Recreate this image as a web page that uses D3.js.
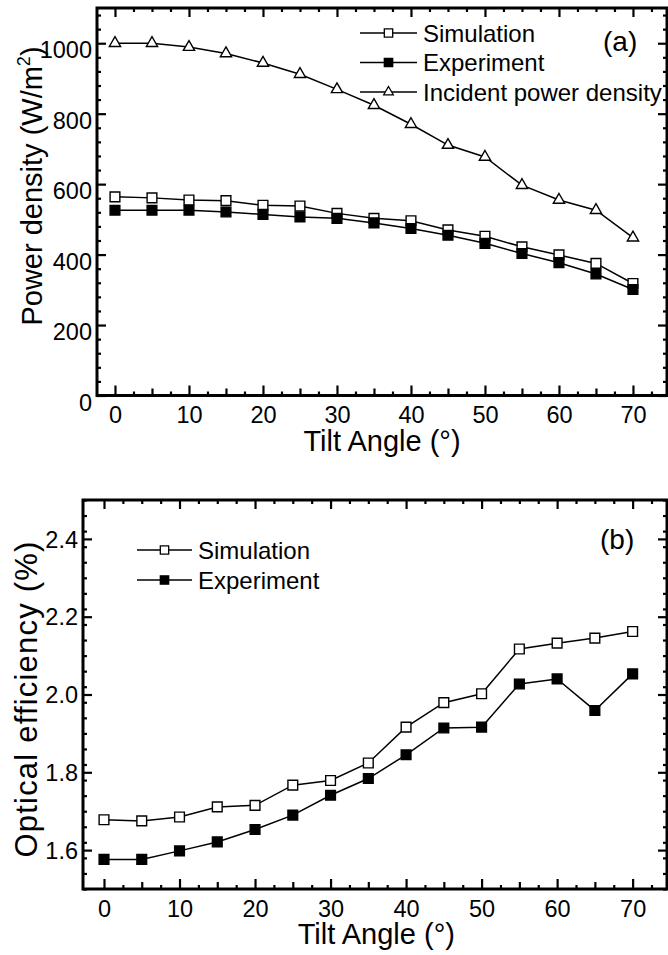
<!DOCTYPE html>
<html>
<head>
<meta charset="utf-8">
<script src="https://cdn.jsdelivr.net/npm/d3@7"></script>
<style>
  body { margin: 0; background: #fff; }
  svg text { font-family: "Liberation Sans", Arial, sans-serif; fill: #000; }
</style>
</head>
<body>
<div id="chart"></div>
<script>
// tilt angles (degrees)
const angles = [0, 5, 10, 15, 20, 25, 30, 35, 40, 45, 50, 55, 60, 65, 70];

// panel (a): power density, W/m^2
const simPower = [564, 561, 555, 553, 540, 538, 517, 503, 496, 470, 452, 422, 399, 375, 318];
const expPower = [526, 526, 526, 521, 514, 507, 503, 490, 474, 455, 432, 403, 377, 345, 301];
const incPower = [1000, 1000, 989, 971, 944, 912, 869, 824, 770, 711, 677, 597, 555, 526, 448];

// panel (b): optical efficiency, %
const simEff = [1.678, 1.675, 1.685, 1.711, 1.715, 1.767, 1.779, 1.824, 1.916, 1.979, 2.002, 2.117, 2.132, 2.145, 2.162];
const expEff = [1.576, 1.576, 1.598, 1.621, 1.653, 1.690, 1.741, 1.784, 1.845, 1.914, 1.916, 2.027, 2.040, 1.959, 2.053];

const xTicks = [0, 10, 20, 30, 40, 50, 60, 70];
const yTicksA = [0, 200, 400, 600, 800, 1000];
const yTicksB = [1.6, 1.8, 2.0, 2.2, 2.4];

const svg = d3.select('#chart').append('svg')
    .attr('width', 668)
    .attr('height', 955);

function drawPanel(cfg) {
    let x = d3.scaleLinear().domain(cfg.xDomain).range([cfg.left, cfg.right]);
    let y = d3.scaleLinear().domain(cfg.yDomain).range([cfg.bottom, cfg.top]);
    let g = svg.append('g');

    let xMinor = d3.range(0, 75, 2.5).filter(v => v % 5 !== 0);
    let xMid = d3.range(5, 75, 10);
    let yMinor = d3.range(cfg.yDomain[0], cfg.yDomain[1] + 1e-9, cfg.yMinorStep)
        .filter(v => !cfg.yTicks.some(t => Math.abs(t - v) < 1e-6));

    // bottom axis, ticks pointing inward
    let bottom = g.append('g').attr('transform', `translate(0,${cfg.bottom})`);
    bottom.append('g').call(d3.axisBottom(x).tickValues(cfg.xTicks).tickSize(-10).tickPadding(11).tickFormat(d3.format('d')));
    bottom.append('g').call(d3.axisBottom(x).tickValues(xMid).tickSize(-7).tickFormat(''));
    bottom.append('g').call(d3.axisBottom(x).tickValues(xMinor).tickSize(-4).tickFormat(''));

    // top axis
    let top = g.append('g').attr('transform', `translate(0,${cfg.top})`);
    top.append('g').call(d3.axisTop(x).tickValues(cfg.xTicks).tickSize(-9).tickFormat(''));
    top.append('g').call(d3.axisTop(x).tickValues(xMid.concat(xMinor)).tickSize(-4).tickFormat(''));

    // left axis
    let left = g.append('g').attr('transform', `translate(${cfg.left},0)`);
    left.append('g').call(d3.axisLeft(y).tickValues(cfg.yTicks).tickSize(-9).tickPadding(5).tickFormat(cfg.yFormat));
    left.append('g').call(d3.axisLeft(y).tickValues(yMinor).tickSize(-4).tickFormat(''));

    // right axis
    let right = g.append('g').attr('transform', `translate(${cfg.right},0)`);
    right.append('g').call(d3.axisRight(y).tickValues(cfg.yTicks).tickSize(-9).tickFormat(''));
    right.append('g').call(d3.axisRight(y).tickValues(yMinor).tickSize(-4).tickFormat(''));

    g.selectAll('.domain').remove();
    g.selectAll('.tick line').attr('stroke', '#000').attr('stroke-width', 2.2);
    g.selectAll('.tick text').attr('font-size', 23.5).attr('font-family', '"Liberation Sans", Arial, sans-serif');
    left.selectAll('.tick text').attr('dy', cfg.yLabelDy);

    g.append('rect')
        .attr('x', cfg.left).attr('y', cfg.top)
        .attr('width', cfg.right - cfg.left).attr('height', cfg.bottom - cfg.top)
        .attr('fill', 'none').attr('stroke', '#000').attr('stroke-width', 3);

    let line = d3.line().x((d, i) => x(angles[i])).y(d => y(d));

    cfg.series.forEach(s => {
        g.append('path').datum(s.values)
            .attr('d', line)
            .attr('fill', 'none').attr('stroke', '#000').attr('stroke-width', 1.5);
        g.selectAll(null).data(s.values).enter().append('path')
            .attr('transform', (d, i) => `translate(${x(angles[i])},${y(d)})`)
            .attr('d', d3.symbol().type(s.shape).size(s.shape === d3.symbolTriangle ? 55 : 95))
            .attr('fill', s.fill).attr('stroke', '#000').attr('stroke-width', 1.4);
    });

    // legend
    cfg.series.forEach((s, i) => {
        let ly = cfg.legend.y + i * cfg.legend.step;
        g.append('line')
            .attr('x1', cfg.legend.x1).attr('x2', cfg.legend.x2)
            .attr('y1', ly).attr('y2', ly)
            .attr('stroke', '#000').attr('stroke-width', 1.5);
        g.append('path')
            .attr('transform', `translate(${(cfg.legend.x1 + cfg.legend.x2) / 2},${ly})`)
            .attr('d', d3.symbol().type(s.shape).size(s.shape === d3.symbolTriangle ? 40 : 70))
            .attr('fill', s.fill).attr('stroke', '#000').attr('stroke-width', 1.3);
        g.append('text')
            .attr('x', cfg.legend.x2 + 6).attr('y', ly + 8.5)
            .attr('font-size', 24)
            .text(s.name);
    });

    // panel letter
    g.append('text')
        .attr('x', cfg.letter.x).attr('y', cfg.letter.y)
        .attr('font-size', 28)
        .text(cfg.letter.text);

    // axis titles
    g.append('text')
        .attr('x', (x(0) + x(70)) / 2 + 8).attr('y', cfg.bottom + 55)
        .attr('text-anchor', 'middle')
        .attr('font-size', 29)
        .text('Tilt Angle (°)');

    let yt = g.append('text')
        .attr('transform', `translate(${cfg.yTitle.x},${cfg.yTitle.y}) rotate(-90)`)
        .attr('text-anchor', 'middle')
        .attr('font-size', cfg.yTitle.size)
        .attr('letter-spacing', cfg.yTitle.spacing);
    cfg.yTitle.build(yt);
}

drawPanel({
    left: 97, right: 667, top: 8, bottom: 395.5,
    xDomain: [-2.43, 74.6], yDomain: [0, 1100],
    xTicks: xTicks, yTicks: yTicksA, yMinorStep: 40,
    yFormat: d3.format('d'), yLabelDy: '0.62em',
    series: [
        { name: 'Simulation', values: simPower, shape: d3.symbolSquare, fill: '#fff' },
        { name: 'Experiment', values: expPower, shape: d3.symbolSquare, fill: '#000' },
        { name: 'Incident power density', values: incPower, shape: d3.symbolTriangle, fill: '#fff' }
    ],
    legend: { x1: 360, x2: 417, y: 33, step: 29.5 },
    letter: { x: 603, y: 51, text: '(a)' },
    yTitle: {
        x: 42, y: 186, size: 29, spacing: 0,
        build: t => {
            t.append('tspan').text('Power density (W/m');
            t.append('tspan').attr('font-size', 18).attr('dy', -12).text('2');
            t.append('tspan').attr('dy', 12).text(')');
        }
    }
});

drawPanel({
    left: 83, right: 667, top: 500, bottom: 889,
    xDomain: [-2.78, 74.55], yDomain: [1.5, 2.5],
    xTicks: xTicks, yTicks: yTicksB, yMinorStep: 0.04,
    yFormat: d3.format('.1f'), yLabelDy: '0.35em',
    series: [
        { name: 'Simulation', values: simEff, shape: d3.symbolSquare, fill: '#fff' },
        { name: 'Experiment', values: expEff, shape: d3.symbolSquare, fill: '#000' }
    ],
    legend: { x1: 137, x2: 192, y: 550, step: 30 },
    letter: { x: 600, y: 549, text: '(b)' },
    yTitle: {
        x: 37, y: 699, size: 31, spacing: 1.2,
        build: t => t.text('Optical efficiency (%)')
    }
});
</script>
</body>
</html>
